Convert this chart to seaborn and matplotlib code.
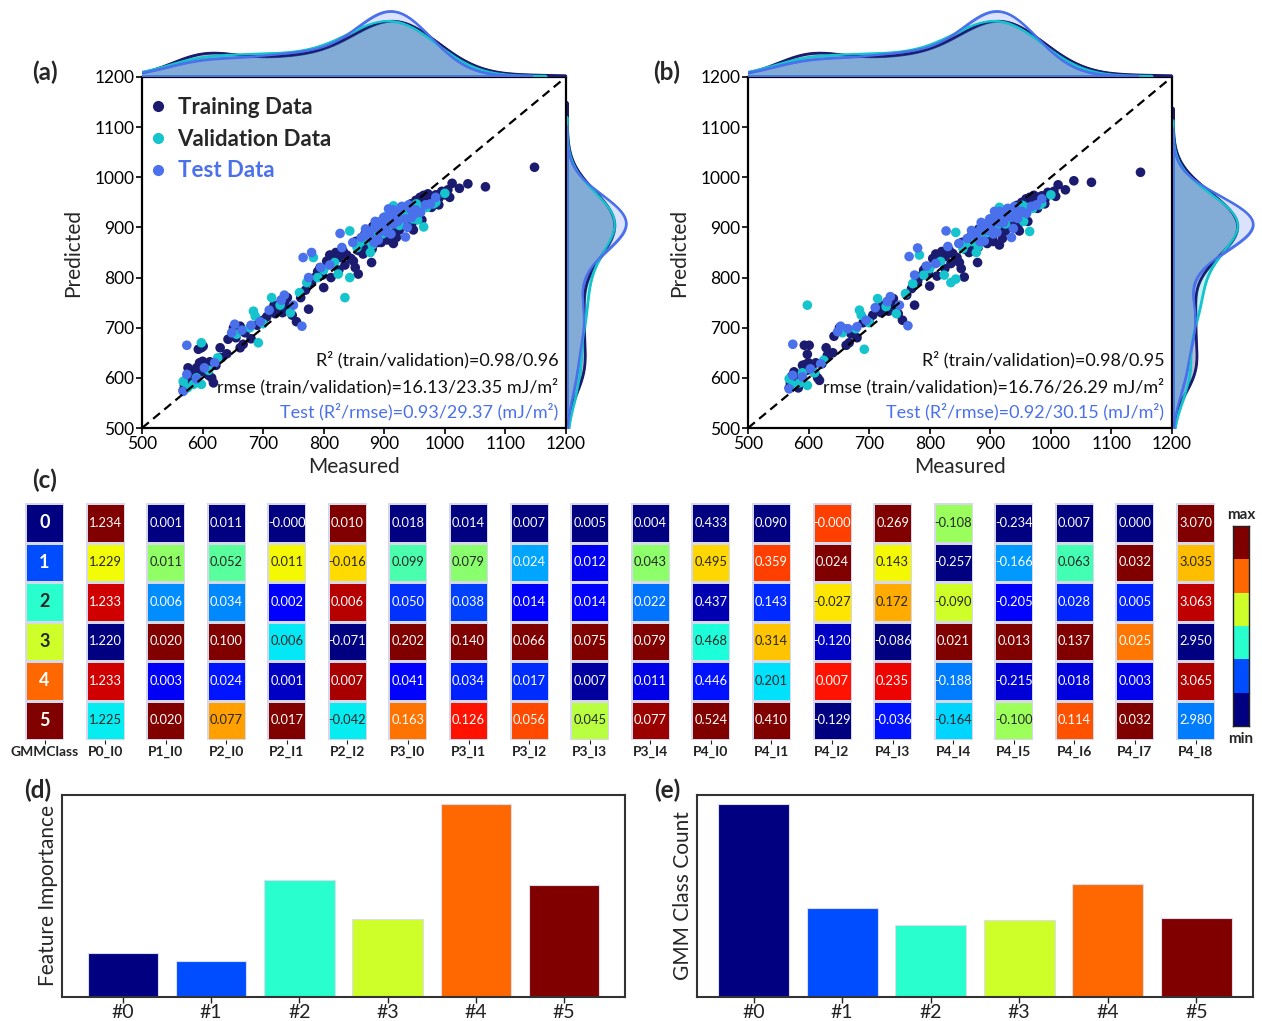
import numpy as np
import pandas as pd
import matplotlib
matplotlib.use('Agg')
import matplotlib.pyplot as plt
from matplotlib.lines import Line2D
from matplotlib.colors import ListedColormap
import seaborn as sns

# ---------------- data: parity plots ----------------
train_meas = [568, 570, 575, 580, 585, 590, 595, 600, 605, 610, 615, 618, 576, 593, 598, 601, 588, 572, 583, 597,
              612, 629, 631, 622, 640,
              642, 651, 662, 667, 662, 655, 670, 680, 690, 700, 706, 712, 718, 725, 730, 736, 742, 748, 755, 740,
              720, 732,
              762, 770, 775, 780, 785, 790, 794, 798, 805, 810, 816, 820, 826, 832, 838, 845, 849, 857, 852, 800,
              812, 825, 835,
              865, 872, 879, 885, 890, 895, 900, 905, 910, 915, 920, 925, 930, 935, 940, 945, 950, 955, 960, 965,
              970, 975, 980, 985, 990, 995, 1000, 1005, 1012, 1024, 1038, 1067, 1148, 920, 948, 962, 978, 990, 1008,
              853, 857, 861, 865, 868, 872, 875, 878, 881, 883, 885, 887, 889, 891, 893, 895, 897, 899, 901, 903,
              906, 908, 910, 912, 914, 916, 918, 921, 923, 926, 928, 931, 934, 937, 939, 942, 944, 947, 949, 952,
              954, 957, 959, 962, 965, 968, 972, 865, 880, 895]
train_pred_a = [575, 585, 592, 600, 610, 620, 630, 633, 615, 605, 600, 590, 620, 657, 660, 663, 603, 595, 588, 612,
                632, 660, 640, 625, 648,
                677, 700, 703, 667, 660, 680, 690, 678, 705, 715, 722, 735, 745, 742, 755, 748, 738, 725, 712, 760,
                728, 730,
                760, 775, 737, 790, 800, 812, 820, 805, 833, 845, 833, 850, 840, 853, 845, 838, 833, 807, 820, 780,
                800, 815, 825,
                860, 870, 830, 880, 870, 892, 885, 875, 900, 868, 905, 895, 915, 910, 920, 905, 930, 925, 935, 945,
                950, 955, 960, 965, 958, 972, 965, 975, 988, 978, 987, 981, 1020, 880, 895, 915, 940, 945, 960,
                872, 854, 877, 864, 887, 860, 892, 874, 902, 868, 897, 882, 910, 872, 902, 882, 914, 892, 904, 877,
                917, 897, 924, 890, 910, 932, 897, 918, 907, 927, 902, 934, 912, 940, 922, 932, 947, 927, 944, 954,
                937, 950, 960, 942, 964, 947, 967, 847, 857, 870]
train_pred_b = [580, 590, 600, 597, 607, 625, 627, 630, 620, 610, 600, 595, 612, 665, 647, 665, 600, 603, 580, 615,
                630, 660, 645, 628, 650,
                683, 700, 697, 670, 665, 693, 688, 680, 710, 712, 725, 738, 740, 745, 752, 750, 735, 728, 715, 758,
                730, 733,
                765, 778, 745, 792, 803, 815, 822, 808, 838, 847, 835, 852, 842, 855, 848, 840, 830, 801, 818, 783,
                803, 818, 828,
                862, 868, 830, 882, 873, 890, 887, 872, 898, 865, 903, 893, 912, 908, 918, 900, 928, 922, 933, 942,
                948, 955, 960, 963, 955, 970, 967, 972, 985, 975, 993, 990, 1010, 878, 893, 912, 938, 947, 962,
                870, 857, 875, 867, 882, 862, 889, 877, 897, 872, 894, 885, 907, 875, 900, 884, 910, 895, 902, 880,
                913, 899, 920, 892, 908, 927, 900, 916, 905, 924, 904, 930, 910, 937, 920, 930, 944, 925, 942, 950,
                935, 947, 957, 944, 960, 950, 964, 850, 860, 868]

val_meas = [568, 585, 598, 598, 590, 575, 610, 625, 656, 678, 692, 684, 687, 714, 700, 728, 745, 760, 783, 772,
            790, 824, 843, 835, 800, 818, 843, 855, 877, 870, 890, 905, 915, 931, 925, 940, 950, 965, 981, 970,
            985, 1000, 880, 860, 955,
            870, 880, 890, 897, 903, 911, 918, 925, 932, 940, 947, 953, 960, 885, 905]
val_pred_a = [593, 587, 587, 670, 600, 580, 615, 640, 687, 700, 670, 733, 723, 760, 708, 745, 730, 770, 840, 790,
              800, 807, 800, 760, 815, 830, 893, 860, 850, 875, 890, 905, 943, 933, 910, 925, 935, 901, 947, 940,
              950, 968, 865, 870, 915,
              887, 872, 910, 887, 922, 907, 937, 904, 927, 942, 917, 947, 937, 902, 897]
val_pred_b = [598, 590, 585, 745, 610, 585, 610, 635, 690, 698, 657, 735, 725, 758, 710, 742, 728, 768, 845, 788,
              805, 805, 797, 790, 818, 832, 890, 858, 850, 872, 888, 903, 940, 930, 908, 922, 932, 892, 945, 938,
              948, 965, 862, 868, 912,
              884, 875, 907, 890, 918, 904, 932, 907, 924, 938, 920, 944, 940, 899, 895]

test_meas = [568, 574, 574, 590, 603, 620, 653, 648, 665, 680, 695, 710, 730, 735, 750, 764, 766, 780, 775, 795,
             810, 827, 830, 848, 862, 875, 885, 895, 904, 910, 915, 920, 928, 935, 940, 945, 952, 960, 968, 976,
             905, 890, 922, 938, 985,
             869, 877, 885, 893, 899, 907, 915, 921, 929, 935, 943, 950, 883, 911, 902]
test_pred_a = [573, 607, 665, 598, 620, 630, 707, 690, 695, 705, 712, 735, 755, 765, 745, 703, 840, 850, 800, 820,
               825, 888, 860, 870, 880, 890, 900, 905, 915, 925, 935, 930, 940, 881, 945, 920, 935, 930, 945, 947,
               890, 875, 912, 900, 960,
               897, 880, 912, 892, 920, 937, 907, 924, 942, 917, 937, 927, 870, 887, 900]
test_pred_b = [578, 605, 667, 602, 618, 628, 703, 692, 698, 702, 715, 740, 752, 762, 745, 704, 842, 859, 805, 823,
               828, 893, 862, 868, 878, 888, 898, 902, 912, 922, 932, 928, 937, 880, 942, 918, 932, 928, 942, 945,
               887, 873, 910, 898, 957,
               894, 882, 910, 894, 917, 932, 910, 922, 938, 920, 934, 930, 872, 890, 897]

set_names = ['Training Data', 'Validation Data', 'Test Data']
stats_a = ['R\u00b2 (train/validation)=0.98/0.96',
           'rmse (train/validation)=16.13/23.35 mJ/m\u00b2',
           'Test (R\u00b2/rmse)=0.93/29.37 (mJ/m\u00b2)']
stats_b = ['R\u00b2 (train/validation)=0.98/0.95',
           'rmse (train/validation)=16.76/26.29 mJ/m\u00b2',
           'Test (R\u00b2/rmse)=0.92/30.15 (mJ/m\u00b2)']
axis_ticks = [500, 600, 700, 800, 900, 1000, 1100, 1200]

# ---------------- data: GMM table ----------------
gmm_class = [0, 1, 2, 3, 4, 5]
P0_I0 = [1.234, 1.229, 1.233, 1.220, 1.233, 1.225]
P1_I0 = [0.001, 0.011, 0.006, 0.020, 0.003, 0.020]
P2_I0 = [0.011, 0.052, 0.034, 0.100, 0.024, 0.077]
P2_I1 = [-0.0, 0.011, 0.002, 0.006, 0.001, 0.017]
P2_I2 = [0.010, -0.016, 0.006, -0.071, 0.007, -0.042]
P3_I0 = [0.018, 0.099, 0.050, 0.202, 0.041, 0.163]
P3_I1 = [0.014, 0.079, 0.038, 0.140, 0.034, 0.126]
P3_I2 = [0.007, 0.024, 0.014, 0.066, 0.017, 0.056]
P3_I3 = [0.005, 0.012, 0.014, 0.075, 0.007, 0.045]
P3_I4 = [0.004, 0.043, 0.022, 0.079, 0.011, 0.077]
P4_I0 = [0.433, 0.495, 0.437, 0.468, 0.446, 0.524]
P4_I1 = [0.090, 0.359, 0.143, 0.314, 0.201, 0.410]
P4_I2 = [-0.0, 0.024, -0.027, -0.120, 0.007, -0.129]
P4_I3 = [0.269, 0.143, 0.172, -0.086, 0.235, -0.036]
P4_I4 = [-0.108, -0.257, -0.090, 0.021, -0.188, -0.164]
P4_I5 = [-0.234, -0.166, -0.205, 0.013, -0.215, -0.100]
P4_I6 = [0.007, 0.063, 0.028, 0.137, 0.018, 0.114]
P4_I7 = [0.000, 0.032, 0.005, 0.025, 0.003, 0.032]
P4_I8 = [3.070, 3.035, 3.063, 2.950, 3.065, 2.980]
table_labels = ['GMMClass', 'P0_I0', 'P1_I0', 'P2_I0', 'P2_I1', 'P2_I2', 'P3_I0', 'P3_I1', 'P3_I2', 'P3_I3',
                'P3_I4', 'P4_I0', 'P4_I1', 'P4_I2', 'P4_I3', 'P4_I4', 'P4_I5', 'P4_I6', 'P4_I7', 'P4_I8']
table_columns = [gmm_class, P0_I0, P1_I0, P2_I0, P2_I1, P2_I2, P3_I0, P3_I1, P3_I2, P3_I3, P3_I4,
                 P4_I0, P4_I1, P4_I2, P4_I3, P4_I4, P4_I5, P4_I6, P4_I7, P4_I8]

# ---------------- data: bars ----------------
class_labels = ['#0', '#1', '#2', '#3', '#4', '#5']
feature_importance = [0.044, 0.036, 0.117, 0.078, 0.192, 0.112]
class_count = [125, 58, 47, 50, 73, 51]

# ---------------- style ----------------
sns.set_theme(style='white')
plt.rcParams['font.family'] = ['Lato', 'DejaVu Sans']
plt.rcParams['axes.unicode_minus'] = False

C_TRAIN = '#1b1b6f'
C_VAL = '#15c4cc'
C_TEST = '#4b70ec'
set_colors = [C_TRAIN, C_VAL, C_TEST]
fill_alpha = [0.30, 0.25, 0.20]
palette = dict(zip(set_names, set_colors))
jet = plt.get_cmap('jet')
jet6 = [jet(i / 5) for i in range(6)]

W, H = 1262, 1021
fig = plt.figure(figsize=(W / 100, H / 100), dpi=100)


def rect(x0, y0, x1, y1):
    return [x0 / W, 1 - y1 / H, (x1 - x0) / W, (y1 - y0) / H]


def parity_panel(x0, right_w, pred_train, pred_val, pred_test, stats):
    meas = [train_meas, val_meas, test_meas]
    preds = [pred_train, pred_val, pred_test]
    df = pd.concat([pd.DataFrame({'Measured': m, 'Predicted': p, 'Set': n})
                    for m, p, n in zip(meas, preds, set_names)], ignore_index=True)

    ax = fig.add_axes(rect(x0, 77, x0 + 424, 428))
    sns.scatterplot(data=df, x='Measured', y='Predicted', hue='Set', palette=palette,
                    hue_order=set_names, s=48, linewidth=0, alpha=1, legend=False, ax=ax, zorder=3)
    ax.plot([500, 1200], [500, 1200], color='black', ls=(0, (4, 2.5)), lw=1.6, zorder=5)
    ax.set_xlim(500, 1200)
    ax.set_ylim(500, 1200)
    ax.set_xticks(axis_ticks)
    ax.set_yticks(axis_ticks)
    ax.tick_params(bottom=True, left=True, direction='out', length=4, width=1.2, labelsize=12.5, pad=1.5,
                   colors='black')
    for s in ax.spines.values():
        s.set_color('black')
        s.set_linewidth(1.6)
    ax.set_xlabel('Measured', fontsize=15, labelpad=4)
    ax.set_ylabel('Predicted', fontsize=15, labelpad=8)

    ys = [0.194, 0.117, 0.046]
    cols = ['#111111', '#111111', C_TEST]
    for t, y, c in zip(stats, ys, cols):
        ax.text(0.982, y, t, transform=ax.transAxes, ha='right', va='center', fontsize=13, color=c)

    # marginal densities
    axt = fig.add_axes(rect(x0, 8, x0 + 424, 76))
    axr = fig.add_axes(rect(x0 + 425, 77, x0 + 425 + right_w, 428))
    for m, p, c, a in zip(meas, preds, set_colors, fill_alpha):
        sns.kdeplot(x=m, color=c, fill=True, alpha=a, linewidth=1.6, ax=axt)
        sns.kdeplot(x=m, color=c, fill=False, linewidth=1.6, ax=axt)
        sns.kdeplot(y=p, color=c, fill=True, alpha=a, linewidth=1.6, ax=axr)
        sns.kdeplot(y=p, color=c, fill=False, linewidth=1.6, ax=axr)
    axt.set_xlim(500, 1200)
    axt.set_ylim(0, None)
    axt.axis('off')
    axr.set_ylim(500, 1200)
    axr.set_xlim(0, None)
    axr.axis('off')
    return ax


axa = parity_panel(142, 62, train_pred_a, val_pred_a, test_pred_a, stats_a)
handles = [Line2D([], [], marker='o', ls='', color=c, markersize=7) for c in set_colors]
leg = axa.legend(handles, set_names, loc='upper left', bbox_to_anchor=(0.0, 0.962), frameon=False,
                 prop={'weight': 'bold', 'size': 16}, handlelength=0.8, handletextpad=0.5,
                 labelspacing=0.48, borderpad=0.3, borderaxespad=0)
leg.get_texts()[2].set_color(C_TEST)
parity_panel(748, 84, train_pred_b, val_pred_b, test_pred_b, stats_b)

# ---------------- GMM table ----------------
for i, (lab, vals) in enumerate(zip(table_labels, table_columns)):
    v = np.array(vals, dtype=float)
    norm = (v - v.min()) / (v.max() - v.min())
    if i == 0:
        annot = np.array([[str(int(x))] for x in vals])
        kws = {'fontsize': 13, 'fontweight': 'bold'}
    else:
        annot = np.array([[f'{x:.3f}'] for x in vals])
        kws = {'fontsize': 9.3}
    x0 = 25 + i * 60.58
    ax = fig.add_axes(rect(x0, 503, x0 + 39, 740))
    sns.heatmap(norm.reshape(-1, 1), cmap='jet', vmin=0, vmax=1, annot=annot, fmt='', cbar=False,
                linewidths=0.8, linecolor='#d8d8ec', annot_kws=kws, xticklabels=[lab], yticklabels=False, ax=ax)
    ax.tick_params(axis='x', bottom=True, length=3, width=0.8, labelsize=10, pad=1.5, colors='#222222')
    for t in ax.get_xticklabels():
        t.set_fontweight('bold')
        t.set_rotation(0)

# colour bar
axc = fig.add_axes(rect(1233, 526, 1249, 726))
sns.heatmap(np.arange(6)[::-1].reshape(6, 1), cmap=ListedColormap(jet6), cbar=False,
            xticklabels=False, yticklabels=False, ax=axc)
for s in axc.spines.values():
    s.set_visible(True)
    s.set_color('#222222')
    s.set_linewidth(1.0)
fig.text(1241 / W, 1 - 515 / H, 'max', ha='center', va='center', fontsize=11, fontweight='bold')
fig.text(1241 / W, 1 - 739 / H, 'min', ha='center', va='center', fontsize=11, fontweight='bold')


# ---------------- bar charts ----------------
def bar_panel(r, values, ylabel, pad_slots):
    ax = fig.add_axes(rect(*r))
    sns.barplot(x=class_labels, y=values, hue=class_labels, palette=jet6, legend=False, width=0.8,
                saturation=1, edgecolor='#dcdcf0', linewidth=0.8, ax=ax)
    ax.set_xlim(-pad_slots, len(class_labels) - 1 + pad_slots)
    ax.set_ylim(0, max(values) / 0.954)
    ax.set_yticks([])
    ax.tick_params(axis='x', bottom=True, length=4, width=1, labelsize=14, pad=1, colors='#222222')
    for s in ax.spines.values():
        s.set_visible(True)
        s.set_color('#333333')
        s.set_linewidth(1.5)
    ax.set_ylabel(ylabel, fontsize=15, labelpad=3)
    return ax


bar_panel((62, 795, 625, 997), feature_importance, 'Feature Importance', 0.69)
bar_panel((697, 795, 1253, 997), class_count, 'GMM Class Count', 0.64)

# ---------------- panel labels ----------------
for t, x, y in [('(a)', 45, 72), ('(b)', 667, 72), ('(c)', 45, 480), ('(d)', 38, 790), ('(e)', 667, 790)]:
    fig.text(x / W, 1 - y / H, t, ha='center', va='center', fontsize=17.5, fontweight='bold')

fig.savefig('out.png', dpi=100)
